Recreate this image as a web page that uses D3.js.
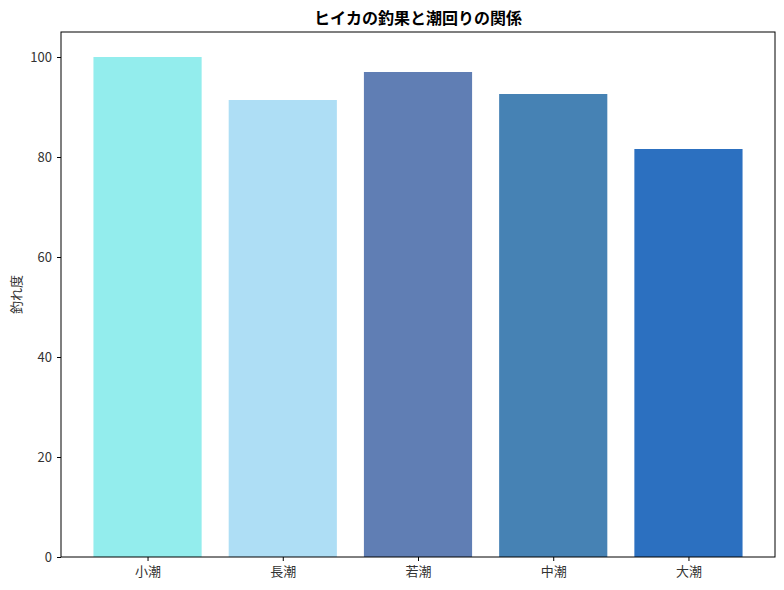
<!DOCTYPE html>
<html><head><meta charset="utf-8">
<script src="https://cdn.jsdelivr.net/npm/d3@7"></script>
<style>body{margin:0;background:#fff;} svg{display:block;} text{font-family:"Noto Sans CJK JP","Noto Sans",sans-serif;}</style>
</head><body>
<svg id="chart" width="784" height="590"></svg>
<script>
const categories = ["小潮","長潮","若潮","中潮","大潮"];
const values = [100, 91.4, 97, 92.6, 81.6];
const colors = ["#93EDED","#AEDEF5","#607EB4","#4682B4","#2C70C0"];
const yTicks = [0,20,40,60,80,100];
const title = "ヒイカの釣果と潮回りの関係";
const yLabel = "釣れ度";

const svg = d3.select("#chart");
const m = {left:61, right:9, top:32, bottom:33};
const W = 784, H = 590;
const x = d3.scaleLinear().domain([-0.64, 4.64]).range([m.left, W - m.right]);
const y = d3.scaleLinear().domain([0, 105]).range([H - m.bottom, m.top]);
const bw = 0.8;

svg.append("g").selectAll("rect").data(values).join("rect")
  .attr("x", (d,i) => x(i - bw/2))
  .attr("width", (d,i) => x(i + bw/2) - x(i - bw/2))
  .attr("y", d => y(d))
  .attr("height", d => y(0) - y(d))
  .attr("fill", (d,i) => colors[i]);

const xAxis = d3.axisBottom(x).tickValues(d3.range(categories.length)).tickFormat(i => categories[i]).tickSizeOuter(0).tickSize(4).tickPadding(6);
const gx = svg.append("g").attr("transform", `translate(0,${H - m.bottom})`).call(xAxis);
gx.select(".domain").remove();
gx.selectAll("text").attr("font-size", 13).attr("fill", "#333");

const yAxis = d3.axisLeft(y).tickValues(yTicks).tickSizeOuter(0).tickSize(4).tickPadding(5);
const gy = svg.append("g").attr("transform", `translate(${m.left},0)`).call(yAxis);
gy.select(".domain").remove();
gy.selectAll("text").attr("font-size", 13).attr("fill", "#333");

svg.append("rect").attr("x", m.left).attr("y", m.top)
  .attr("width", W - m.left - m.right).attr("height", H - m.top - m.bottom)
  .attr("fill", "none").attr("stroke", "#000").attr("stroke-width", 1);

svg.append("text").attr("x", (m.left + W - m.right)/2).attr("y", 24)
  .attr("text-anchor", "middle").attr("font-size", 16).attr("font-weight", "bold").text(title);

svg.append("text").attr("transform", `translate(21,${(m.top + H - m.bottom)/2}) rotate(-90)`)
  .attr("text-anchor", "middle").attr("font-size", 13).attr("fill", "#333").text(yLabel);
</script>
</body></html>
